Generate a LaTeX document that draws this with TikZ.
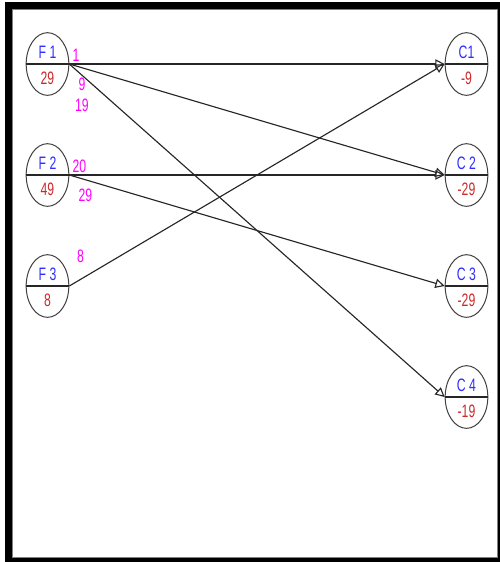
\documentclass[tikz,border=0pt]{standalone}
\usepackage{fontspec}
\setmainfont{Liberation Sans}
\usetikzlibrary{shapes.geometric,arrows.meta}
\definecolor{nblue}{RGB}{45,45,255}
\definecolor{nred}{RGB}{205,40,40}
\definecolor{nmag}{RGB}{255,0,255}
\newcommand{\cnd}[1]{\scalebox{0.68}[1]{#1}}
\begin{document}
\begin{tikzpicture}[x=0.75pt,y=-0.75pt,
  vert/.style={ellipse,draw=black!75,line width=0.75pt,minimum width=32pt,minimum height=47pt,inner sep=0pt},
  nametxt/.style={text=nblue,font=\fontsize{13.5}{13.5}\selectfont,inner sep=0pt},
  valtxt/.style={text=nred,font=\fontsize{13.5}{13.5}\selectfont,inner sep=0pt},
  flowlbl/.style={text=nmag,font=\fontsize{13.5}{13.5}\selectfont,inner sep=0pt},
  arc/.style={draw=black!85,line width=0.85pt,-{Triangle[open,length=7pt,width=7pt]}},
  divider/.style={draw=black!85,line width=1pt}
]
\useasboundingbox (0,0) rectangle (500,562);
% frame
\fill[black] (5,2) rectangle (500,562);
\filldraw[fill=white,draw=black!50,line width=0.5pt] (12,9) rectangle (497,557);

% source vertices
\node[vert] (F1) at (47.5,64) {};
\node[vert] (F2) at (47.5,175) {};
\node[vert] (F3) at (47.5,286) {};
% sink vertices
\node[vert] (C1) at (466.5,64) {};
\node[vert] (C2) at (466.5,175) {};
\node[vert] (C3) at (466.5,286) {};
\node[vert] (C4) at (466.5,397) {};

\foreach \n in {F1,F2,F3,C1,C2,C3,C4}{
  \draw[divider] (\n.west) -- (\n.east);
}

% texts
\node[nametxt] (tF1) at (47.5,52) {\cnd{F 1}};
\node[valtxt]  (vF1) at (47.5,78) {\cnd{29}};
\node[nametxt] (tF2) at (47.5,163) {\cnd{F 2}};
\node[valtxt]  (vF2) at (47.5,189) {\cnd{49}};
\node[nametxt] (tF3) at (47.5,274) {\cnd{F 3}};
\node[valtxt]  (vF3) at (47.5,300) {\cnd{8}};
\node[nametxt] (tC1) at (466.5,52) {\cnd{C1}};
\node[valtxt]  (vC1) at (466.5,78) {\cnd{-9}};
\node[nametxt] (tC2) at (466.5,163) {\cnd{C 2}};
\node[valtxt]  (vC2) at (466.5,189) {\cnd{-29}};
\node[nametxt] (tC3) at (466.5,274) {\cnd{C 3}};
\node[valtxt]  (vC3) at (466.5,300) {\cnd{-29}};
\node[nametxt] (tC4) at (466.5,385) {\cnd{C 4}};
\node[valtxt]  (vC4) at (466.5,411) {\cnd{-19}};

% arcs
\draw[arc] (F1.east) -- (C1.west);
\draw[arc] (F1.east) -- (C2.west);
\draw[arc] (F1.east) -- (C4.west);
\draw[arc] (F2.east) -- (C2.west);
\draw[arc] (F2.east) -- (C3.west);
\draw[arc] (F3.east) -- (C1.west);

% flow labels
\node[flowlbl] (l1)  at (76,55)  {\cnd{1}};
\node[flowlbl] (l9)  at (82,84)  {\cnd{9}};
\node[flowlbl] (l19) at (82,105) {\cnd{19}};
\node[flowlbl] (l20) at (79.5,166) {\cnd{20}};
\node[flowlbl] (l29) at (85.5,195) {\cnd{29}};
\node[flowlbl] (l8)  at (80.5,256) {\cnd{8}};
\end{tikzpicture}
\end{document}
